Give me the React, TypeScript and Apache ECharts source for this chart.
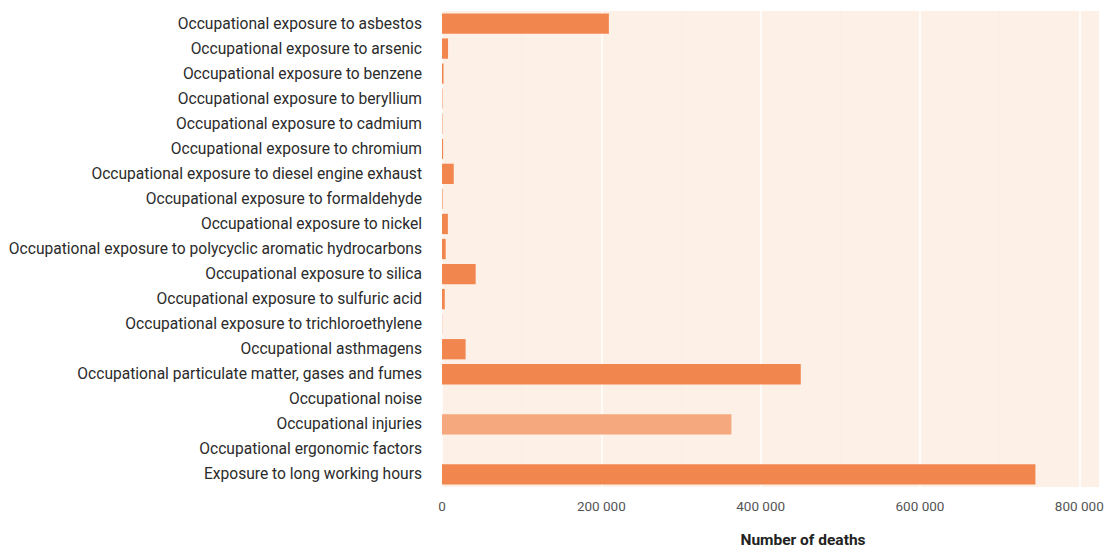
import React, { useEffect, useRef } from "react";
import * as echarts from "echarts";

const categories = [
  "Occupational exposure to asbestos",
  "Occupational exposure to arsenic",
  "Occupational exposure to benzene",
  "Occupational exposure to beryllium",
  "Occupational exposure to cadmium",
  "Occupational exposure to chromium",
  "Occupational exposure to diesel engine exhaust",
  "Occupational exposure to formaldehyde",
  "Occupational exposure to nickel",
  "Occupational exposure to polycyclic aromatic hydrocarbons",
  "Occupational exposure to silica",
  "Occupational exposure to sulfuric acid",
  "Occupational exposure to trichloroethylene",
  "Occupational asthmagens",
  "Occupational particulate matter, gases and fumes",
  "Occupational noise",
  "Occupational injuries",
  "Occupational ergonomic factors",
  "Exposure to long working hours",
];

const deaths = [
  209481, 7589, 1886, 571, 567, 1386, 14730, 774, 7397, 4641, 42258, 3471,
  300, 29641, 450381, 0, 363283, 0, 744924,
];

// index of the highlighted (lighter) bar
const lighterIndex = [16];

const xTicks = [0, 200000, 400000, 600000, 800000];

const BAR = "#F2864F";
const BAR_LIGHT = "#F5A77E";

export default function App() {
  const ref = useRef<HTMLDivElement>(null);
  useEffect(() => {
    document.body.style.margin = "0";
    if (!ref.current) return;
    const chart = echarts.init(ref.current, undefined, { renderer: "svg" });
    chart.setOption({
      animation: false,
      grid: {
        left: 442,
        top: 11,
        width: 658,
        height: 476,
        show: true,
        backgroundColor: "#FDF0E7",
        borderWidth: 0,
        containLabel: false,
      },
      xAxis: {
        type: "value",
        min: 0,
        max: 826000,
        interval: 200000,
        axisLine: { show: false },
        axisTick: { show: false },
        axisLabel: {
          color: "#555",
          fontFamily: "Roboto",
          fontSize: 13.5,
          margin: 12,
          showMaxLabel: false,
          formatter: (v: number) =>
            xTicks.includes(v) ? String(v).replace(/\B(?=(\d{3})+(?!\d))/g, " ") : "",
        },
        splitLine: { show: true, lineStyle: { color: "#FFFFFF", width: 1.5 } },
        minorTick: { show: false, splitNumber: 2 },
        minorSplitLine: {
          show: true,
          lineStyle: { color: "#FAEADF", width: 1, type: "dotted" },
        },
      },
      yAxis: {
        type: "category",
        data: categories,
        inverse: true,
        axisLine: { show: false },
        axisTick: { show: false },
        splitLine: { show: false },
        axisLabel: {
          color: "#2b2b2b",
          fontFamily: "Roboto",
          fontSize: 15.6,
          margin: 20,
        },
      },
      series: [
        {
          type: "bar",
          barCategoryGap: "19%",
          data: deaths.map((v, i) => ({
            value: v,
            itemStyle: { color: lighterIndex.includes(i) ? BAR_LIGHT : BAR },
          })),
        },
      ],
      graphic: [
        {
          type: "text",
          x: 803,
          y: 540,
          style: {
            text: "Number of deaths",
            fontFamily: "Roboto",
            fontWeight: "bold",
            fontSize: 15.5,
            fill: "#222",
            textAlign: "center",
            textVerticalAlign: "middle",
          },
        },
      ],
    });
    return () => chart.dispose();
  }, []);
  return <div ref={ref} style={{ width: 1108, height: 549 }} />;
}
